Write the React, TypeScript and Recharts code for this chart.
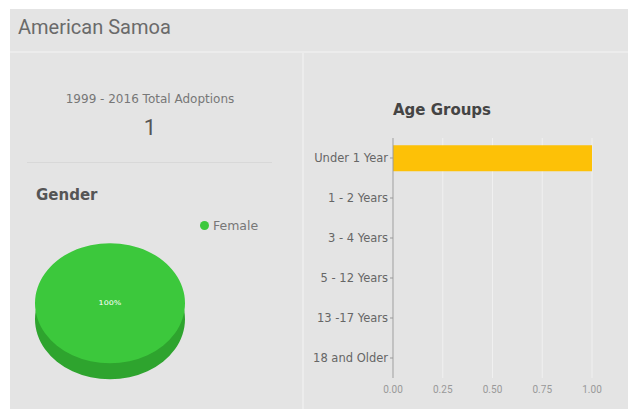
import React from 'react';
import { BarChart, Bar, XAxis, YAxis, CartesianGrid, PieChart, Pie, Cell } from 'recharts';

const ageGroups = ['Under 1 Year', '1 - 2 Years', '3 - 4 Years', '5 - 12 Years', '13 -17 Years', '18 and Older'];
const ageCounts = [1, 0, 0, 0, 0, 0];
const xTicks = [0, 0.25, 0.5, 0.75, 1];

const genders = ['Female'];
const genderCounts = [1];

const totalAdoptions = 1;

const ageData = ageGroups.map((name, i) => ({ name, value: ageCounts[i] }));
const genderData = genders.map((name, i) => ({ name, value: genderCounts[i] }));

const green = '#3cc83c';
const greenDark = '#2ea42e';
const amber = '#fdc107';
const font = 'Roboto, "Open Sans", sans-serif';
const wide = '"DejaVu Sans", sans-serif';

export default function App() {
  const total = genderCounts.reduce((a, b) => a + b, 0);
  const pieLabel = (p: any) => (
    <text x={p.cx} y={p.cy} fill="#fff" fontSize={8} textAnchor="middle" dominantBaseline="central" fontFamily={wide}>
      {`${Math.round((p.value / total) * 100)}%`}
    </text>
  );

  return (
    <div style={{ position: 'absolute', left: 0, top: 0, width: 628, height: 409, background: '#fff', overflow: 'hidden', fontFamily: font }}>
      <div style={{ position: 'absolute', left: 10, top: 9, width: 618, height: 400, background: '#e4e4e4' }}>
        {/* header */}
        <div style={{ position: 'absolute', left: 8, top: 6, fontSize: 20, color: '#6a6a6a' }}>American Samoa</div>
        <div style={{ position: 'absolute', left: 0, top: 42, width: 618, height: 2, background: '#ececec' }} />
        <div style={{ position: 'absolute', left: 292, top: 44, width: 2, height: 356, background: '#ececec' }} />

        {/* total */}
        <div style={{ position: 'absolute', left: 0, top: 83, width: 280, textAlign: 'center', fontSize: 12, color: '#777', fontFamily: wide, whiteSpace: 'nowrap' }}>
          1999 - 2016 Total Adoptions
        </div>
        <div style={{ position: 'absolute', left: 0, top: 106, width: 280, textAlign: 'center', fontSize: 22, color: '#555' }}>
          {totalAdoptions}
        </div>
        <div style={{ position: 'absolute', left: 17, top: 153, width: 245, height: 1, background: '#d8d8d8' }} />

        {/* gender */}
        <div style={{ position: 'absolute', left: 26, top: 177, fontSize: 15, fontWeight: 700, color: '#555', fontFamily: wide }}>Gender</div>
        <div style={{ position: 'absolute', left: 190, top: 209, fontSize: 12.5, color: '#777', display: 'flex', alignItems: 'center', fontFamily: wide }}>
          <span style={{ display: 'inline-block', width: 9, height: 9, borderRadius: 5, background: green, marginRight: 4 }} />
          {genders[0]}
        </div>
      </div>

      <div style={{ position: 'absolute', left: 0, top: 0, transform: 'scaleY(0.8)', transformOrigin: '0 0' }}>
        <PieChart width={300} height={500}>
          <Pie data={genderData} dataKey="value" cx={105} cy={394} outerRadius={75} startAngle={90} endAngle={-270} stroke="none" isAnimationActive={false}>
            {genderData.map((d, i) => <Cell key={i} fill={greenDark} />)}
          </Pie>
          <Pie data={genderData} dataKey="value" cx={105} cy={374} outerRadius={75} startAngle={90} endAngle={-270} stroke="none" label={pieLabel} labelLine={false} isAnimationActive={false}>
            {genderData.map((d, i) => <Cell key={i} fill={green} />)}
          </Pie>
        </PieChart>
      </div>

      <div style={{ position: 'absolute', left: 382, top: 101, width: 120, textAlign: 'center', fontSize: 15, fontWeight: 700, color: '#444', fontFamily: wide, whiteSpace: 'nowrap' }}>
        Age Groups
      </div>

      <div style={{ position: 'absolute', left: 300, top: 130 }}>
        <BarChart width={320} height={272} data={ageData} layout="vertical" margin={{ top: 8, right: 28, left: 0, bottom: 4 }} barCategoryGap="18%">
          <CartesianGrid horizontal={false} stroke="#f0f0f0" />
          <XAxis type="number" domain={[0, 1]} ticks={xTicks} tickFormatter={(v: number) => v.toFixed(2)} tick={{ fontSize: 10, fill: '#999' }} axisLine={false} tickLine={false} height={20} />
          <YAxis type="category" dataKey="name" width={93} tick={{ fontSize: 11.5, fill: '#666', fontFamily: wide }} axisLine={{ stroke: '#999' }} tickLine={{ stroke: '#999' }} tickSize={3} interval={0} />
          <Bar dataKey="value" fill={amber} isAnimationActive={false} />
        </BarChart>
      </div>
    </div>
  );
}
